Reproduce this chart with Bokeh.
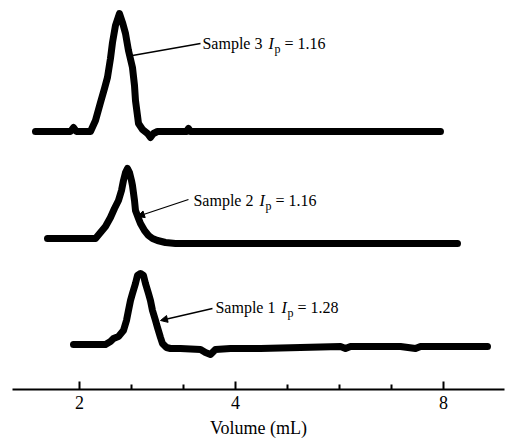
from bokeh.plotting import figure
from bokeh.models import Range1d, FixedTicker, Label, Arrow, NormalHead
from bokeh.embed import file_html
from bokeh.resources import INLINE

# x positions in tick units (tick 0 = "2", tick 3 = "4", tick 7 = "8")
tick_values = [0, 3, 7]
minor_ticks = [1, 2, 4, 5, 6]
tick_labels = ["2", "4", "8"]

# Sample 3 (top trace): x in tick units, signal above its baseline
s3_x = [-0.846, -0.365, -0.173, -0.115, -0.058, 0.212, 0.308, 0.404, 0.481, 0.538, 0.596, 0.635,
        0.692, 0.769, 0.827, 0.885, 0.942, 1.019, 1.058, 1.077, 1.115, 1.135, 1.212, 1.308,
        1.365, 1.423, 1.5, 2.058, 2.096, 2.135, 6.942]
s3_y = [0, 0, 0, 4, 0, 0, 11, 29, 43, 54, 73, 89, 106, 118, 109, 98, 81, 64, 46, 31, 16, 8,
        2, -2, -6, -2, 0, 0, 3, 0, 0]
s3_offset = 258

# Sample 2 (middle trace)
s2_x = [-0.615, 0.308, 0.404, 0.5, 0.596, 0.673, 0.75, 0.808, 0.846, 0.885, 0.923, 0.962, 1.0,
        1.019, 1.058, 1.077, 1.135, 1.173, 1.25, 1.327, 1.404, 1.5, 1.654, 1.846, 7.269]
s2_y = [2, 2, 8, 14, 23, 32, 40, 50, 60, 68, 72, 68, 60, 55, 40, 30, 22, 17, 10, 5, 2, 0, -2,
        -3, -3]
s2_offset = 149

# Sample 1 (bottom trace)
s1_x = [-0.115, 0.5, 0.596, 0.654, 0.75, 0.846, 0.904, 0.942, 0.981, 1.019, 1.077, 1.115, 1.173,
        1.231, 1.269, 1.327, 1.365, 1.404, 1.462, 1.5, 1.558, 1.596, 1.673, 1.75, 1.942, 2.327,
        2.423, 2.519, 2.615, 2.904, 3.481, 4.25, 5.019, 5.115, 5.212, 6.173, 6.462, 6.558, 7.846]
s1_y = [2, 2, 5, 8, 10, 16, 26, 36, 46, 53, 63, 71, 73, 71, 63, 53, 46, 36, 26, 19, 9, 3, -1,
        -2, -2, -3, -6, -8, -3, -2, -2, -1, 0, -2, 0, 0, -2, 0, 0]
s1_offset = 43

# annotations: label text, value, text anchor, leader line (from curve to text)
ann_sample = ["Sample 3", "Sample 2", "Sample 1"]
ann_value = ["1.16", "1.16", "1.28"]
ann_text_x = [2.365, 2.192, 2.615]
ann_text_y = [346, 189, 82]
lead_x0 = [1.019, 1.115, 1.558]
lead_y0 = [334, 173, 69]
lead_x1 = [2.327, 2.096, 2.558]
lead_y1 = [346, 190, 81]
lead_arrow = [False, True, True]

FONT = "Liberation Serif"
FS = "16px"
NB = "\u00a0"

p = figure(frame_width=492, frame_height=381, output_backend="svg", toolbar_location=None,
           x_range=Range1d(-1.288, 8.173), y_range=Range1d(0, 381),
           y_axis_location=None, min_border_left=12, min_border_right=1, min_border_top=8,
           min_border_bottom=40)
p.outline_line_color = None
p.grid.visible = False
p.background_fill_color = "white"
p.border_fill_color = "white"

for xs, ys, off in [(s3_x, s3_y, s3_offset), (s2_x, s2_y, s2_offset), (s1_x, s1_y, s1_offset)]:
    p.line(xs, [v + off for v in ys], line_color="black", line_width=7,
           line_join="round", line_cap="round")

for i in range(3):
    if lead_arrow[i]:
        p.add_layout(Arrow(end=NormalHead(size=7, fill_color="black", line_color="black"),
                           x_start=lead_x1[i], y_start=lead_y1[i],
                           x_end=lead_x0[i], y_end=lead_y0[i],
                           line_color="black", line_width=1.3))
    else:
        p.segment(x0=[lead_x0[i]], y0=[lead_y0[i]], x1=[lead_x1[i]], y1=[lead_y1[i]],
                  line_color="black", line_width=1.3)
    tx, ty = ann_text_x[i], ann_text_y[i]
    p.add_layout(Label(x=tx, y=ty, text=ann_sample[i], text_font=FONT,
                       text_font_size=FS, text_baseline="middle", text_color="black"))
    p.add_layout(Label(x=tx, y=ty, x_offset=66, text="I", text_font=FONT,
                       text_font_style="italic", text_font_size=FS, text_baseline="middle",
                       text_color="black"))
    p.add_layout(Label(x=tx, y=ty, x_offset=72, y_offset=-5, text="p", text_font=FONT,
                       text_font_size="12px", text_baseline="middle", text_color="black"))
    p.add_layout(Label(x=tx, y=ty, x_offset=82, text="=" + NB + ann_value[i], text_font=FONT,
                       text_font_size=FS, text_baseline="middle", text_color="black"))

ax = p.xaxis[0]
ax.ticker = FixedTicker(ticks=tick_values, minor_ticks=minor_ticks)
ax.major_label_overrides = {t: l for t, l in zip(tick_values, tick_labels)}
ax.major_tick_in = 8
ax.major_tick_out = 0
ax.minor_tick_in = 5
ax.minor_tick_out = 0
ax.axis_line_width = 2
ax.major_tick_line_width = 2
ax.minor_tick_line_width = 2
ax.axis_line_color = "black"
ax.major_tick_line_color = "black"
ax.minor_tick_line_color = "black"
ax.major_label_text_font = FONT
ax.major_label_text_font_size = "18px"
ax.major_label_text_color = "black"
ax.major_label_standoff = 6
ax.axis_label = "Volume (mL)"
ax.axis_label_text_font = FONT
ax.axis_label_text_font_size = "18px"
ax.axis_label_text_font_style = "normal"
ax.axis_label_text_color = "black"
ax.axis_label_standoff = 6

open("out.html", "w").write(file_html(p, INLINE))
